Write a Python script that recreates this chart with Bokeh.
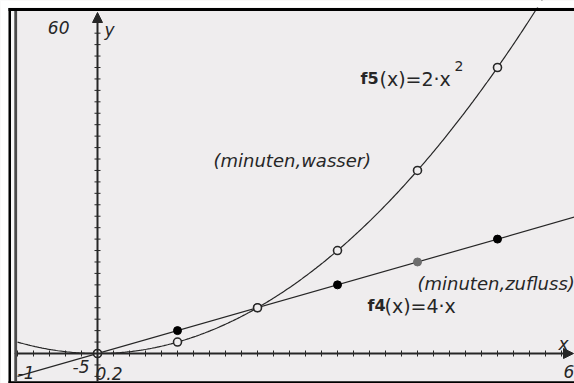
import numpy as np
from bokeh.plotting import figure
from bokeh.models import Range1d, Label, BoxAnnotation, Arrow, NormalHead
from bokeh.embed import file_html
from bokeh.resources import INLINE

# ---- data ----
minuten = [0, 1, 2, 3, 4, 5]
wasser = [0, 2, 8, 18, 32, 50]
zufluss = [0, 4, 8, 12, 16, 20]
zufluss_colors = ["black", "black", "black", "black", "#6e6e6e", "black"]

x_min, x_max = -1, 6
y_min, y_max = -5, 60
x_scl, y_scl = 0.2, 2

BG = "#efedee"
INK = "#262626"

W, H = 574, 383
ORIGIN_X, ORIGIN_Y = 97, 353      # canvas pixel of (0, 0)
PX_X, PX_Y = 80.0, 5.72            # pixels per unit


def dx(cx):
    return (cx - ORIGIN_X) / PX_X


def dy(cy):
    return (ORIGIN_Y - cy) / PX_Y


p = figure(width=W, height=H, output_backend="svg", toolbar_location=None,
           x_range=Range1d(dx(0), dx(W)), y_range=Range1d(dy(H), dy(0)),
           x_axis_type=None, y_axis_type=None, min_border=0,
           background_fill_color=BG, border_fill_color=BG, outline_line_color=None)
p.grid.visible = False

# ---- frame decoration (TI screen borders) ----
p.add_layout(BoxAnnotation(bottom=dy(7), fill_color="white", fill_alpha=1, line_alpha=0))
p.add_layout(BoxAnnotation(right=dx(8), fill_color="white", fill_alpha=1, line_alpha=0))
p.add_layout(BoxAnnotation(bottom=dy(10.5), top=dy(7.5), left=dx(8),
                           fill_color="black", fill_alpha=1, line_alpha=0))
p.add_layout(BoxAnnotation(left=dx(8), right=dx(10.5), top=dy(7.5), bottom=dy(383),
                           fill_color="black", fill_alpha=1, line_alpha=0))
p.add_layout(BoxAnnotation(left=dx(10.5), right=dx(13.8), bottom=dy(380.5), top=dy(10.5),
                           fill_color="#f7f7f7", fill_alpha=1, line_alpha=0))
p.add_layout(BoxAnnotation(left=dx(13.8), right=dx(16.6), bottom=dy(380.5), top=dy(10.5),
                           fill_color="#4a4a4a", fill_alpha=1, line_alpha=0))
p.add_layout(BoxAnnotation(top=dy(380.8), left=dx(8), fill_color="black", fill_alpha=1, line_alpha=0))

# ---- axes ----
p.add_layout(Arrow(x_start=0, y_start=dy(381), x_end=0, y_end=dy(12),
                   line_color=INK, line_width=2,
                   end=NormalHead(size=10, fill_color=INK, line_color=INK)))
p.add_layout(Arrow(x_start=dx(17), y_start=0, x_end=dx(573), y_end=0,
                   line_color=INK, line_width=2,
                   end=NormalHead(size=10, fill_color=INK, line_color=INK)))

xt = np.round(np.arange(x_min, x_max, x_scl), 6)
xt = xt[np.abs(xt) > 1e-9]
yt = np.arange(-4, y_max, y_scl)
yt = yt[yt != 0]
p.scatter(xt, np.zeros_like(xt), marker="cross", size=6, line_color=INK, line_width=1)
p.scatter(np.zeros_like(yt), yt, marker="cross", size=6, line_color=INK, line_width=1)

# ---- function graphs ----
f4_x = np.array([dx(17), x_max + 0.2])
p.line(f4_x, 4 * f4_x, line_color=INK, line_width=1.2)
f5_x = np.linspace(dx(17), 5.6, 300)
p.line(f5_x, 2 * f5_x ** 2, line_color=INK, line_width=1.2)

# ---- data points ----
p.scatter(minuten, zufluss, marker="circle", size=8, fill_color=zufluss_colors,
          line_color=zufluss_colors, line_width=1)
p.scatter(minuten, wasser, marker="circle", size=8, fill_color=BG,
          line_color=INK, line_width=1.6)

# ---- texts ----
SANS = "DejaVu Sans"


def lab(text, cx, cy, size, style="normal", align="left", color=INK):
    p.add_layout(Label(x=dx(cx), y=dy(cy), text=text, text_font=SANS,
                       text_font_size=f"{size}px", text_font_style=style,
                       text_align=align, text_baseline="middle", text_color=color))


lab("60", 69, 27, 17, "italic", "right")
lab("y", 104, 29, 17, "italic")
lab("x", 563, 343, 17, "italic", "center")
lab("6", 563, 371, 17, "italic")
lab("-1", 17, 372, 17, "italic")
lab("-5", 89, 366, 17, "italic", "right")
lab("0.2", 95, 373, 17, "italic")

lab("f5", 360, 78, 16, "bold")
lab("(x)=2·x", 379, 78, 19)
lab("2", 454, 65, 14)

lab("f4", 367, 305, 16, "bold")
lab("(x)=4·x", 384, 305, 19)

lab("(minuten,wasser)", 213, 160, 18, "italic")
lab("(minuten,zufluss)", 417, 283, 18, "italic")

open("out.html", "w").write(file_html(p, INLINE))
